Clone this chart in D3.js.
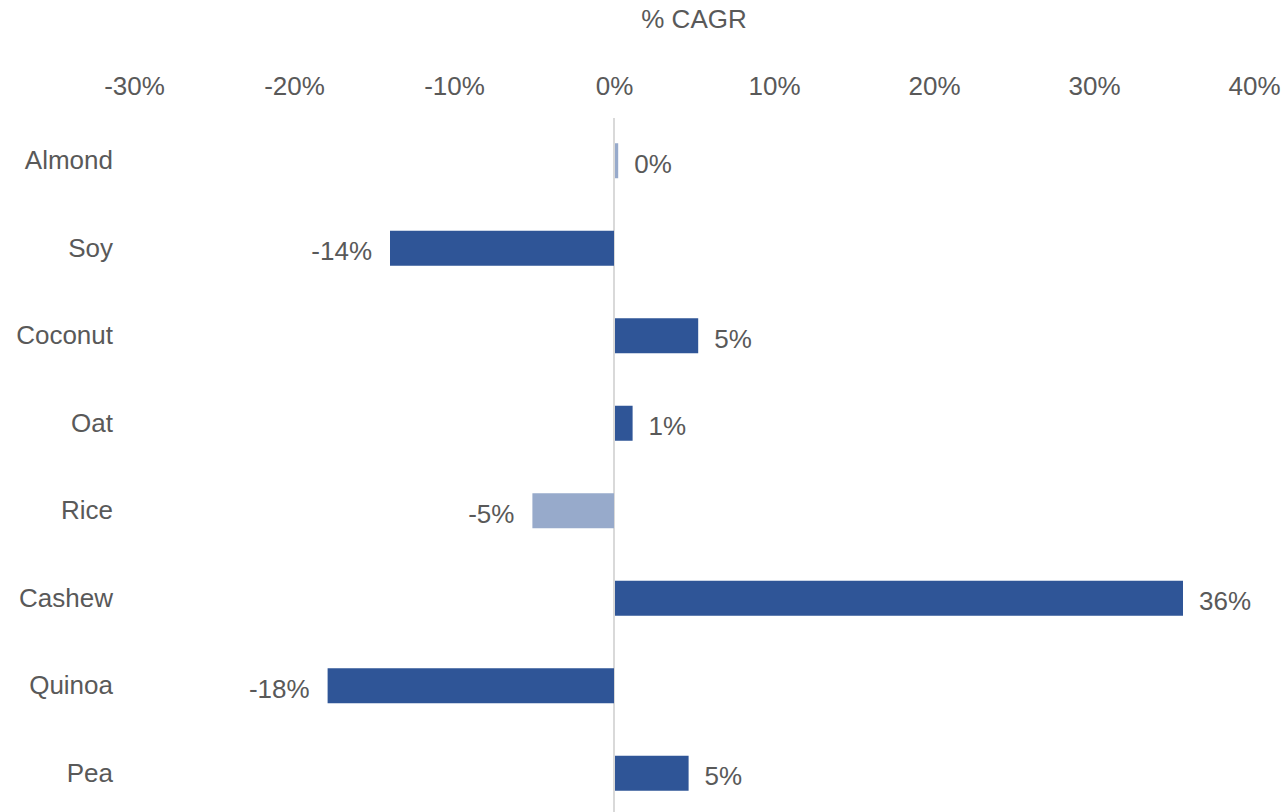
<!DOCTYPE html>
<html>
<head>
<meta charset="utf-8">
<script src="https://cdn.jsdelivr.net/npm/d3@7"></script>
<style>
  html, body { margin: 0; padding: 0; background: #ffffff; }
  svg { display: block; font-family: "Liberation Sans", Arial, sans-serif; }
</style>
</head>
<body>
<svg id="chart" width="1281" height="812"></svg>
<script>
// Plant-based milk categories and their compound annual growth rate
const categories = ["Almond", "Soy", "Coconut", "Oat", "Rice", "Cashew", "Quinoa", "Pea"];
const cagr = [0.002, -0.14, 0.052, 0.011, -0.051, 0.355, -0.179, 0.046];
const mutedCategories = ["Almond", "Rice"];
const tickValues = [-0.3, -0.2, -0.1, 0, 0.1, 0.2, 0.3, 0.4];
const axisTitle = "% CAGR";

const rows = categories.map((c, i) => ({ category: c, value: cagr[i] }));

const locale = d3.formatLocale({ decimal: ".", thousands: ",", grouping: [3], currency: ["$", ""], minus: "-" });
const pct = locale.format(".0%");

const svg = d3.select("#chart");
const textColor = "#595959";
const fontSize = 26;

const x = d3.scaleLinear().domain([-0.3, 0.4]).range([134, 1254]);
const y = d3.scaleBand().domain(categories).range([117, 817]).paddingInner(0.6).paddingOuter(0.3);

// Top axis labels
const axis = d3.axisTop(x).tickValues(tickValues).tickFormat(pct).tickSize(0).tickPadding(0);
const axisG = svg.append("g").attr("transform", "translate(0,95)").call(axis);
axisG.select(".domain").remove();
axisG.selectAll("text")
  .attr("fill", textColor)
  .attr("font-size", fontSize)
  .attr("font-family", "Liberation Sans, Arial, sans-serif")
  .attr("dy", 0);

svg.append("text")
  .attr("x", (x.range()[0] + x.range()[1]) / 2)
  .attr("y", 28)
  .attr("text-anchor", "middle")
  .attr("fill", textColor)
  .attr("font-size", fontSize)
  .text(axisTitle);

// Zero line
svg.append("line")
  .attr("x1", x(0)).attr("x2", x(0))
  .attr("y1", 118).attr("y2", 812)
  .attr("stroke", "#d9d9d9")
  .attr("stroke-width", 2);

// Category labels
const yAxis = d3.axisLeft(y).tickSize(0).tickPadding(0);
const yG = svg.append("g").attr("transform", "translate(113,0)").call(yAxis);
yG.select(".domain").remove();
yG.selectAll("text")
  .attr("fill", textColor)
  .attr("font-size", fontSize)
  .attr("font-family", "Liberation Sans, Arial, sans-serif")
  .attr("dy", "0.32em");

// Bars
svg.append("g").selectAll("rect")
  .data(rows)
  .join("rect")
  .attr("x", d => x(Math.min(0, d.value)) + (d.value >= 0 ? 1 : 0))
  .attr("width", d => Math.abs(x(d.value) - x(0)))
  .attr("y", d => y(d.category))
  .attr("height", y.bandwidth())
  .attr("fill", d => mutedCategories.includes(d.category) ? "#97AACB" : "#2F5597");

// Value labels
svg.append("g").selectAll("text")
  .data(rows)
  .join("text")
  .attr("x", d => d.value >= 0 ? x(d.value) + 17 : x(d.value) - 18)
  .attr("y", d => y(d.category) + y.bandwidth() / 2 + 3)
  .attr("dy", "0.35em")
  .attr("text-anchor", d => d.value >= 0 ? "start" : "end")
  .attr("fill", textColor)
  .attr("font-size", fontSize)
  .text(d => pct(d.value));
</script>
</body>
</html>
